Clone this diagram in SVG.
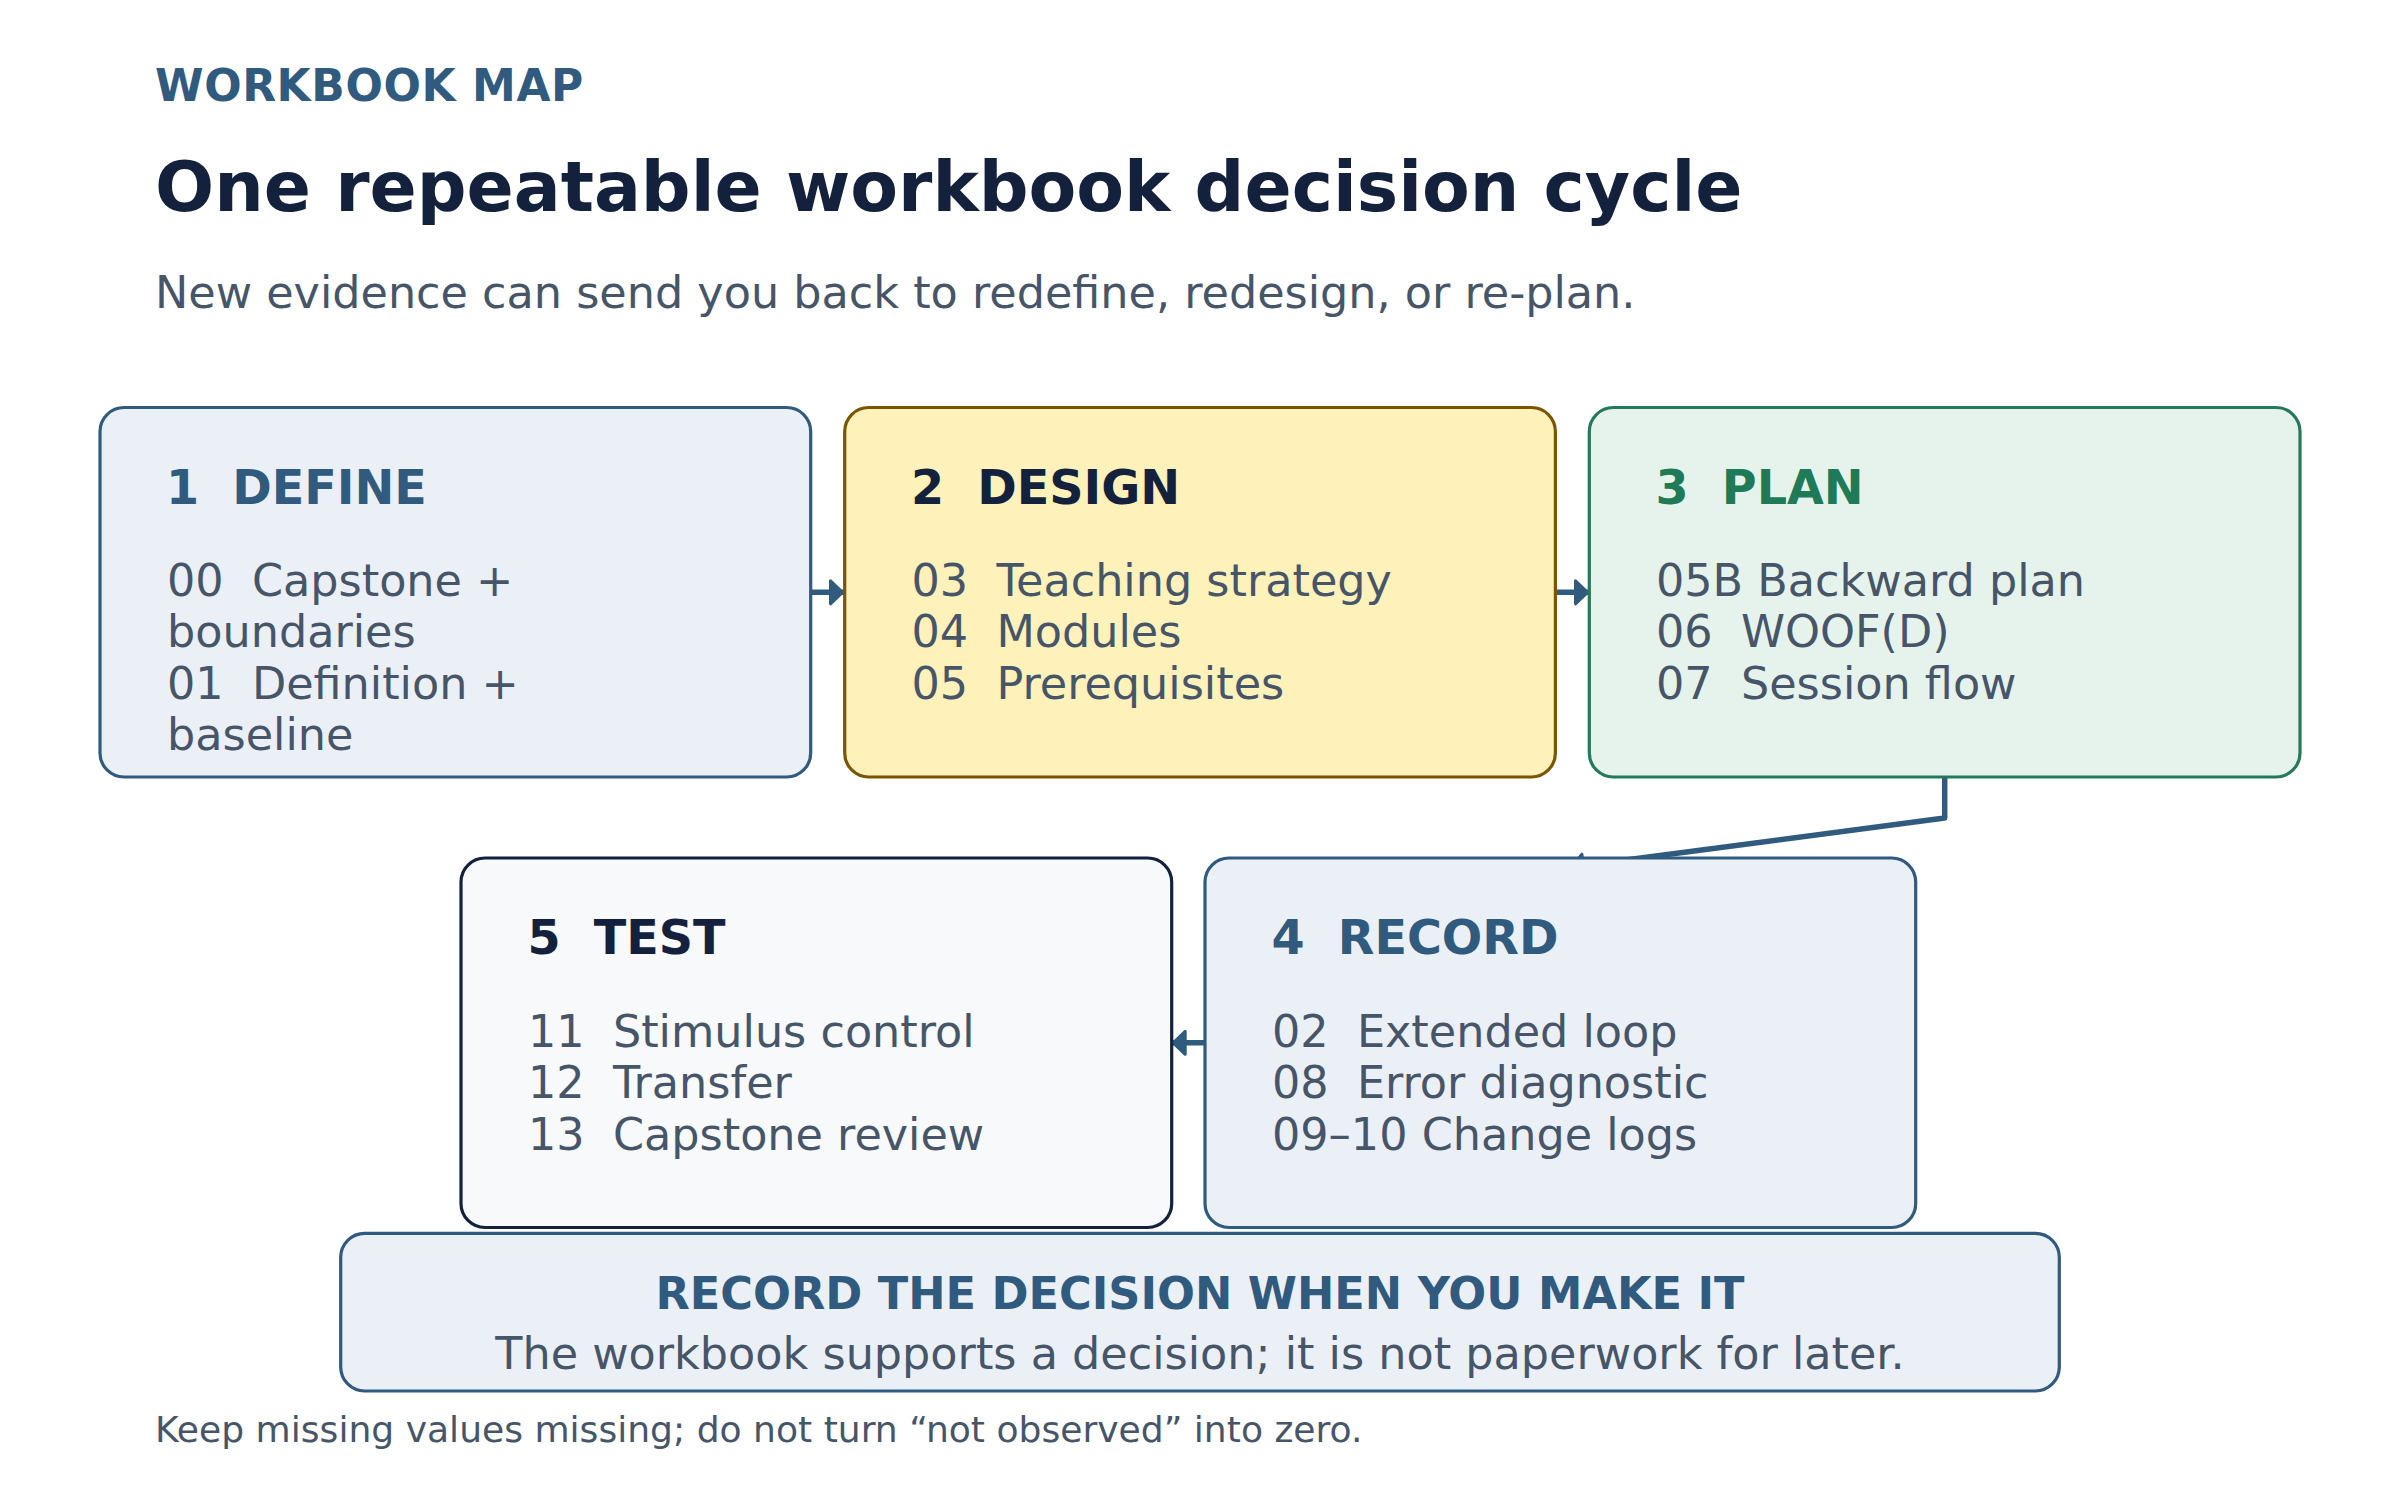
<svg xmlns="http://www.w3.org/2000/svg" width="2400" height="1500" viewBox="0 0 2400 1500">
  <style>
    text { font-family: "DejaVu Sans", "Liberation Sans", sans-serif; white-space: pre; }
    .eyebrow { font-size: 44px; font-weight: bold; fill: #305A7E; letter-spacing: 0.6px; }
    .title { font-size: 69.6px; font-weight: bold; fill: #14213D; }
    .subtitle { font-size: 44.5px; fill: #475569; }
    .head { font-size: 47.6px; font-weight: bold; }
    .item { font-size: 44.5px; fill: #475569; }
    .box { stroke-width: 3.2; }
    .blue-box { fill: #EBF0F7; stroke: #305A7E; }
    .yellow-box { fill: #FEF1BA; stroke: #7A5600; }
    .green-box { fill: #E6F3EC; stroke: #237A5A; }
    .white-box { fill: #F7F9FB; stroke: #14213D; }
    .blue-t { fill: #305A7E; }
    .dark-t { fill: #14213D; }
    .green-t { fill: #1F7A57; }
    .conn { fill: none; stroke: #305A7E; stroke-width: 5.5; stroke-linejoin: round; }
    .banner-title { font-size: 44.6px; font-weight: bold; fill: #305A7E; }
    .banner-text { font-size: 44.5px; fill: #475569; }
    .footer { font-size: 36.1px; fill: #475569; }
  </style>
  <defs>
    <marker id="arrow" markerUnits="userSpaceOnUse" markerWidth="20" markerHeight="30" refX="15" refY="13" orient="auto" overflow="visible">
      <path d="M1.5,1.5 L13.5,13 L1.5,24.5 Z" fill="#305A7E" stroke="#305A7E" stroke-width="3" stroke-linejoin="round"/>
    </marker>
  </defs>

  <g id="header">
    <text class="eyebrow" x="155" y="101">WORKBOOK MAP</text>
    <text class="title" x="155" y="211">One repeatable workbook decision cycle</text>
    <text class="subtitle" x="155" y="308">New evidence can send you back to redefine, redesign, or re-plan.</text>
  </g>

  <g id="connectors">
    <path class="conn" d="M811,592.3 L844,592.3" marker-end="url(#arrow)"/>
    <path class="conn" d="M1555.3,592.3 L1589,592.3" marker-end="url(#arrow)"/>
    <path class="conn" d="M1944.7,777 L1944.7,818 L1570,867.3" marker-end="url(#arrow)"/>
    <path class="conn" d="M1205,1042.8 L1171.7,1042.8" marker-end="url(#arrow)"/>
  </g>

  <g id="node-define">
    <rect class="box blue-box" x="100" y="407.5" width="710.7" height="369.5" rx="24"/>
    <text class="head blue-t" x="166" y="503.5">1  DEFINE</text>
    <text class="item" x="167" y="595.5">00  Capstone +</text>
    <text class="item" x="167" y="647">boundaries</text>
    <text class="item" x="167" y="698.5">01  Definition +</text>
    <text class="item" x="167" y="750">baseline</text>
  </g>

  <g id="node-design">
    <rect class="box yellow-box" x="844.7" y="407.5" width="710.7" height="369.5" rx="24"/>
    <text class="head dark-t" x="911" y="503.5">2  DESIGN</text>
    <text class="item" x="911.5" y="595.5">03  Teaching strategy</text>
    <text class="item" x="911.5" y="647">04  Modules</text>
    <text class="item" x="911.5" y="698.5">05  Prerequisites</text>
  </g>

  <g id="node-plan">
    <rect class="box green-box" x="1589.3" y="407.5" width="710.7" height="369.5" rx="24"/>
    <text class="head green-t" x="1655.5" y="503.5">3  PLAN</text>
    <text class="item" x="1656" y="595.5">05B Backward plan</text>
    <text class="item" x="1656" y="647">06  WOOF(D)</text>
    <text class="item" x="1656" y="698.5">07  Session flow</text>
  </g>

  <g id="node-record">
    <rect class="box blue-box" x="1205" y="858" width="710.7" height="369.5" rx="24"/>
    <text class="head blue-t" x="1271.5" y="953.5">4  RECORD</text>
    <text class="item" x="1272" y="1046.5">02  Extended loop</text>
    <text class="item" x="1272" y="1098">08  Error diagnostic</text>
    <text class="item" x="1272" y="1149.5">09–10 Change logs</text>
  </g>

  <g id="node-test">
    <rect class="box white-box" x="461" y="858" width="710.7" height="369.5" rx="24"/>
    <text class="head dark-t" x="527.5" y="953.5">5  TEST</text>
    <text class="item" x="528" y="1046.5">11  Stimulus control</text>
    <text class="item" x="528" y="1098">12  Transfer</text>
    <text class="item" x="528" y="1149.5">13  Capstone review</text>
  </g>

  <g id="banner">
    <rect class="box blue-box" x="340.7" y="1233.3" width="1718.6" height="157.7" rx="24"/>
    <text class="banner-title" x="1200" y="1309.3" text-anchor="middle">RECORD THE DECISION WHEN YOU MAKE IT</text>
    <text class="banner-text" x="1200" y="1369" text-anchor="middle">The workbook supports a decision; it is not paperwork for later.</text>
  </g>

  <g id="footer">
    <text class="footer" x="155" y="1441.7">Keep missing values missing; do not turn “not observed” into zero.</text>
  </g>
</svg>
